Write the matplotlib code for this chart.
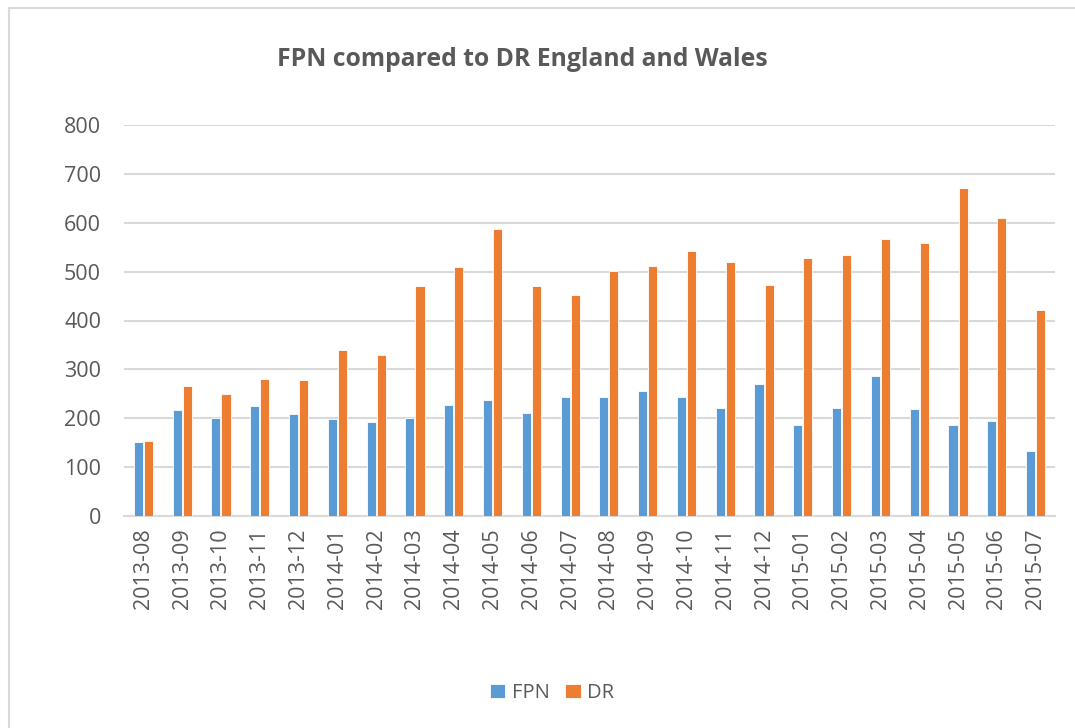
import numpy as np
import matplotlib
matplotlib.use('Agg')
import matplotlib.pyplot as plt
from matplotlib.lines import Line2D

months = ['2013-08', '2013-09', '2013-10', '2013-11', '2013-12', '2014-01',
          '2014-02', '2014-03', '2014-04', '2014-05', '2014-06', '2014-07',
          '2014-08', '2014-09', '2014-10', '2014-11', '2014-12', '2015-01',
          '2015-02', '2015-03', '2015-04', '2015-05', '2015-06', '2015-07']
fpn = [152, 216, 201, 225, 208, 198, 193, 201, 227, 238, 211, 243,
       244, 255, 243, 221, 270, 186, 221, 287, 219, 186, 195, 133]
dr = [153, 266, 250, 280, 278, 339, 329, 470, 510, 588, 471, 453,
      501, 512, 542, 520, 473, 528, 535, 566, 558, 671, 609, 422]

plt.rcParams['font.family'] = ['Open Sans', 'DejaVu Sans']
grey = '#595959'
blue = '#5B9BD5'
orange = '#ED7D31'

fig = plt.figure(figsize=(10.75, 7.28), dpi=100)
ax = fig.add_axes([124 / 1075, 1 - 516 / 728, 931 / 1075, 391 / 728])

x = np.arange(len(months))
w = 0.235
ax.bar(x - 0.13, fpn, w, color=blue, edgecolor='white', linewidth=0.6, label='FPN', zorder=3)
ax.bar(x + 0.13, dr, w, color=orange, edgecolor='white', linewidth=0.6, label='DR', zorder=3)

ax.set_xlim(-0.5, len(months) - 0.5)
ax.set_ylim(0, 800)
ax.set_yticks(range(0, 801, 100))
ax.set_xticks(x)
ax.set_xticklabels(months, rotation=90)
ax.tick_params(axis='both', length=0, labelsize=15.5, colors=grey)
ax.tick_params(axis='x', pad=9)
ax.tick_params(axis='y', pad=16.5)
ax.yaxis.grid(True, color='#D9D9D9', linewidth=1.5, zorder=0)
ax.set_axisbelow(True)
for s in ['top', 'right', 'left']:
    ax.spines[s].set_visible(False)
ax.spines['bottom'].set_color('#D9D9D9')
ax.spines['bottom'].set_linewidth(1.5)

fig.text(522 / 1075, 1 - 59 / 728, 'FPN compared to DR England and Wales',
         ha='center', va='center', fontsize=17.8, fontweight='bold', color=grey)

leg = fig.legend(loc='center', bbox_to_anchor=(552 / 1075, 1 - 693 / 728), ncol=2,
                 frameon=False, fontsize=14.5, handlelength=0.75, handleheight=0.75,
                 handletextpad=0.3, columnspacing=0.8)
for t in leg.get_texts():
    t.set_color(grey)

fig.add_artist(Line2D([8.5 / 1075, 8.5 / 1075], [0, 1 - 7.5 / 728], color='#D9D9D9', lw=1.5))
fig.add_artist(Line2D([8.5 / 1075, 1], [1 - 7.5 / 728, 1 - 7.5 / 728], color='#D9D9D9', lw=1.5))

fig.savefig('out.png', dpi=100)
